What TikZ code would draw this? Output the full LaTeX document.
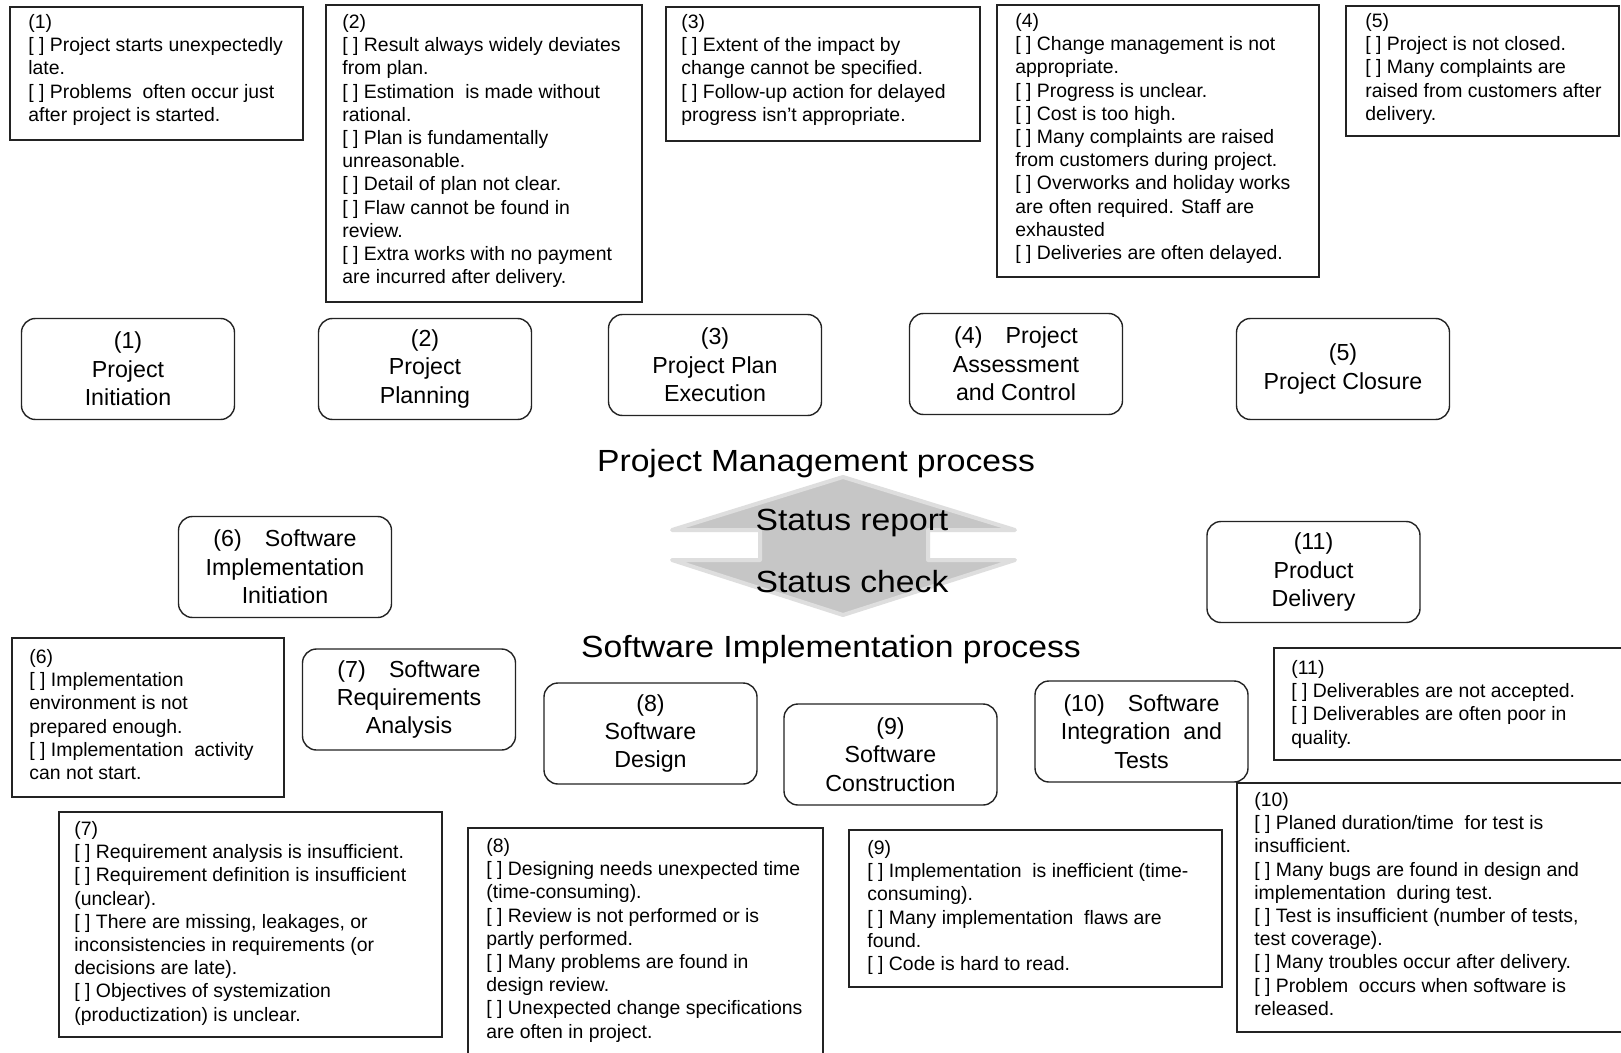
\documentclass[tikz,border=0pt]{standalone}
\usepackage{fontspec}
\setmainfont{Liberation Sans}
\newfontfamily\headfont[FakeStretch=1.1]{Liberation Sans}
\usetikzlibrary{fit}
\newcommand{\ckb}{[ ]\ }
\definecolor{arrowgray}{RGB}{198,198,198}
\definecolor{edgegray}{RGB}{222,222,222}
\definecolor{linecol}{RGB}{35,35,35}
\begin{document}
\begin{tikzpicture}[x=0.5pt,y=-0.5pt,
  stage/.style={draw=linecol, line width=0.7pt, rounded corners=7pt,
    minimum width=106.5pt, minimum height=50.5pt, inner sep=0pt,
    align=center, font=\fontsize{11.6}{14.2}\selectfont},
  tbox/.style={draw=linecol, line width=0.7pt, inner sep=0pt},
  ttext/.style={anchor=north west, inner sep=0pt, align=left,
    font=\fontsize{9.7}{11.6}\selectfont},
  head/.style={font=\headfont\fontsize{15.3}{18}\selectfont, inner sep=0pt, anchor=base}
]
\clip (0,0) rectangle (1621,1053);
\fill[white] (0,0) rectangle (1621,1053);

% central double arrow
\draw[edgegray, line width=2pt, line join=round, fill=arrowgray]
  (843,477) -- (1015,530) -- (928,530) -- (928,560) -- (1015,560) -- (843,615)
  -- (672,560) -- (760,560) -- (760,530) -- (672,530) -- cycle;

% headings
\node[head] (pm) at (816,471) {Project Management process};
\node[head] (sr) at (852,530) {Status report};
\node[head] (sc) at (852,592) {Status check};
\node[head] (si) at (831,657) {Software Implementation process};

% project management stages
\node[stage] (p1) at (128,369) {(1)\\Project\\Initiation};
\node[stage] (p2) at (425,369) {(2)\\Project\\Planning};
\node[stage] (p3) at (715,365) {(3)\\Project Plan\\Execution};
\node[stage] (p4) at (1016,364) {(4)\hspace{1em}Project\\Assessment\\and Control};
\node[stage] (p5) at (1343,369) {(5)\\Project Closure};

% software implementation stages
\node[stage] (s6) at (285,567) {(6)\hspace{1em}Software\\Implementation\\Initiation};
\node[stage] (s7) at (409,699.5) {(7)\hspace{1em}Software\\Requirements\\Analysis};
\node[stage] (s8) at (650.5,733.5) {(8)\\Software\\Design};
\node[stage] (s9) at (890.5,754.5) {(9)\\Software\\Construction};
\node[stage] (s10) at (1141.5,731.5) {(10)\hspace{1em}Software\\Integration\ \ and\\Tests};
\node[stage] (s11) at (1313.5,572) {(11)\\Product\\Delivery};

% problem boxes (top)
\node[tbox, fit={(10,7) (303,140)}] (b1) {};
\node[ttext] (t1) at (28,14) {(1)\\\ckb Project starts unexpectedly\\late.\\\ckb Problems\ \ often occur just\\after project is started.};

\node[tbox, fit={(326,5) (642,302)}] (b2) {};
\node[ttext] (t2) at (342,14) {(2)\\\ckb Result always widely deviates\\from plan.\\\ckb Estimation\ \ is made without\\rational.\\\ckb Plan is fundamentally\\unreasonable.\\\ckb Detail of plan not clear.\\\ckb Flaw cannot be found in\\review.\\\ckb Extra works with no payment\\are incurred after delivery.};

\node[tbox, fit={(666,7) (980,141)}] (b3) {};
\node[ttext] (t3) at (681,14) {(3)\\\ckb Extent of the impact by\\change cannot be specified.\\\ckb Follow-up action for delayed\\progress isn't appropriate.};

\node[tbox, fit={(997,5) (1319,277)}] (b4) {};
\node[ttext] (t4) at (1015,13) {(4)\\\ckb Change management is not\\appropriate.\\\ckb Progress is unclear.\\\ckb Cost is too high.\\\ckb Many complaints are raised\\from customers during project.\\\ckb Overworks and holiday works\\are often required. Staff are\\exhausted\\\ckb Deliveries are often delayed.};

\node[tbox, fit={(1346,6) (1619,136)}] (b5) {};
\node[ttext] (t5) at (1365,13) {(5)\\\ckb Project is not closed.\\\ckb Many complaints are\\raised from customers after\\delivery.};

% problem boxes (bottom)
\node[tbox, fit={(12,638) (284,797)}] (b6) {};
\node[ttext] (t6) at (29,649) {(6)\\\ckb Implementation\\environment is not\\prepared enough.\\\ckb Implementation\ \ activity\\can not start.};

\node[tbox, fit={(59,812) (442,1037)}] (b7) {};
\node[ttext] (t7) at (74,821) {(7)\\\ckb Requirement analysis is insufficient.\\\ckb Requirement definition is insufficient\\(unclear).\\\ckb There are missing, leakages, or\\inconsistencies in requirements (or\\decisions are late).\\\ckb Objectives of systemization\\(productization) is unclear.};

\node[tbox, fit={(468,828) (823,1070)}] (b8) {};
\node[ttext] (t8) at (486,838) {(8)\\\ckb Designing needs unexpected time\\(time-consuming).\\\ckb Review is not performed or is\\partly performed.\\\ckb Many problems are found in\\design review.\\\ckb Unexpected change specifications\\are often in project.};

\node[tbox, fit={(849,830) (1222,987)}] (b9) {};
\node[ttext] (t9) at (867,840) {(9)\\\ckb Implementation\ \ is inefficient (time-\\consuming).\\\ckb Many implementation\ \ flaws are\\found.\\\ckb Code is hard to read.};

\node[tbox, fit={(1237,783) (1640,1032)}] (b10) {};
\node[ttext] (t10) at (1254,792) {(10)\\\ckb Planed duration/time\ \ for test is\\insufficient.\\\ckb Many bugs are found in design and\\implementation\ \ during test.\\\ckb Test is insufficient (number of tests,\\test coverage).\\\ckb Many troubles occur after delivery.\\\ckb Problem\ \ occurs when software is\\released.};

\node[tbox, fit={(1274,648) (1640,760)}] (b11) {};
\node[ttext] (t11) at (1291,660) {(11)\\\ckb Deliverables are not accepted.\\\ckb Deliverables are often poor in\\quality.};
\end{tikzpicture}
\end{document}
